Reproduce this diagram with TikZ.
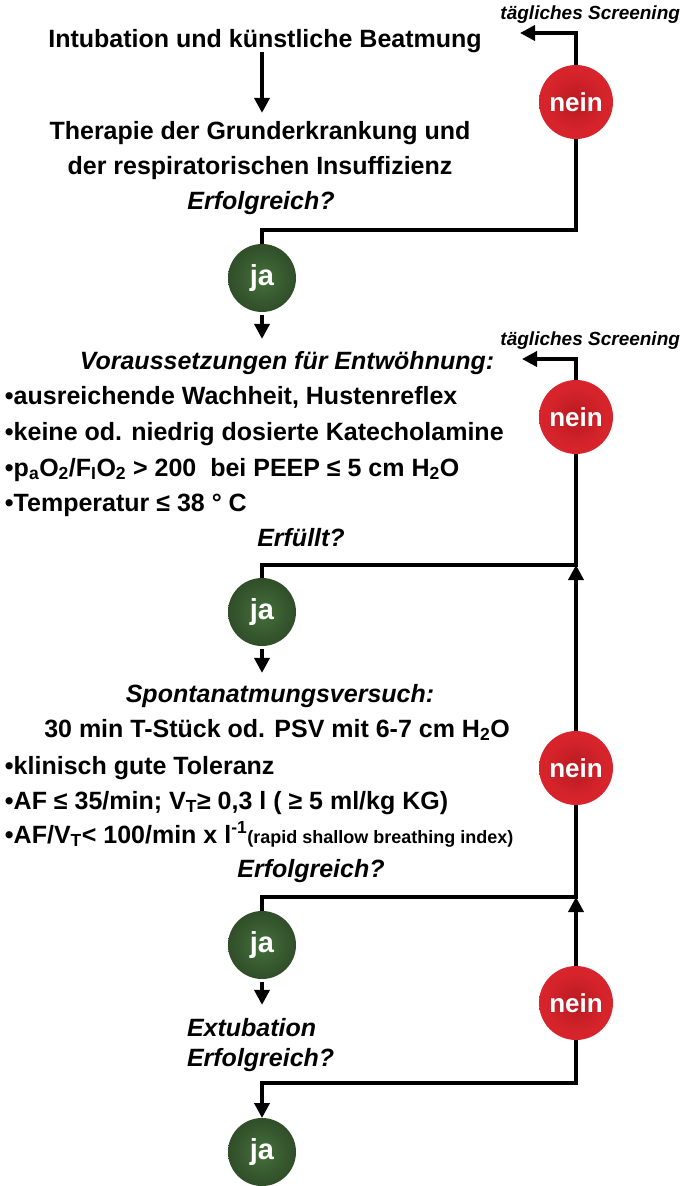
\documentclass[tikz,border=0pt]{standalone}
\usepackage{fontspec}
\setmainfont{Liberation Sans}
\usetikzlibrary{arrows.meta}

% ball shadings for the yes/no markers
\pgfdeclareradialshading{jashade}{\pgfpoint{0bp}{0bp}}{rgb(0bp)=(0.27,0.44,0.23); rgb(18bp)=(0.21,0.34,0.18); rgb(50bp)=(0.11,0.19,0.09)}
\pgfdeclareradialshading{neinshade}{\pgfpoint{0bp}{0bp}}{rgb(0bp)=(0.72,0.10,0.13); rgb(20bp)=(0.84,0.14,0.17); rgb(50bp)=(0.88,0.16,0.18)}

\tikzset{
  line/.style={line width=3.6pt},
  arr/.style={line, -{Triangle[length=15pt,width=15pt]}},
  txt/.style={font=\fontsize{25}{30}\selectfont\bfseries, inner sep=0pt, outer sep=0pt, anchor=base},
  lft/.style={txt, anchor=base west},
  itx/.style={txt, font=\fontsize{25}{30}\selectfont\bfseries\itshape},
  itl/.style={itx, anchor=base west},
  scr/.style={txt, font=\fontsize{19}{22}\selectfont\bfseries\itshape, anchor=base east},
  ja/.style={circle, minimum size=68pt, inner sep=0pt, outer sep=0pt, shade, shading=jashade,
    text=white, font=\fontsize{29}{30}\selectfont\bfseries},
  nein/.style={ja, minimum size=74pt, shading=neinshade, font=\fontsize{26}{30}\selectfont\bfseries}
}

\begin{document}
\begin{tikzpicture}[x=1pt,y=-1pt]
  \useasboundingbox (0,0) rectangle (685,1186);

  % step 1
  \node[txt] (intub) at (265,47) {Intubation und künstliche Beatmung};
  \node[txt] (ther1) at (260,139) {Therapie der Grunderkrankung und};
  \node[txt] (ther2) at (260,174) {der respiratorischen Insuffizienz};
  \node[itx] (erf1) at (261,209) {Erfolgreich?};
  \node[ja] (ja1) at (262,278) {ja};
  \node[nein] (nein1) at (576,102) {nein};
  \node[scr] (scr1lbl) at (680,19) {tägliches Screening};
  \coordinate (scr1) at (520,33);
  \coordinate (k1) at (576,230);

  % step 2
  \node[itx] (vor) at (287,369) {Voraussetzungen für Entwöhnung:};
  \node[lft] (b1) at (5,404) {•ausreichende Wachheit, Hustenreflex};
  \node[lft] (b2) at (5,440) {•keine od. niedrig dosierte Katecholamine};
  \node[lft] (b3) at (5,476) {•p\textsubscript{a}O\textsubscript{2}/F\textsubscript{I}O\textsubscript{2} > 200\ \ bei PEEP ≤ 5 cm H\textsubscript{2}O};
  \node[lft] (b4) at (5,511) {•Temperatur ≤ 38 ° C};
  \node[itx] (erf2) at (301,546) {Erfüllt?};
  \node[nein] (nein2) at (576,417) {nein};
  \node[scr] (scr2lbl) at (680,345) {tägliches Screening};
  \coordinate (scr2) at (522,359);
  \coordinate (k2) at (576,565);
  \node[ja] (ja2) at (262,612) {ja};

  % step 3
  \node[itx] (spont) at (280,702) {Spontanatmungsversuch:};
  \node[txt] (psv) at (277,737) {30 min T-Stück od. PSV mit 6-7 cm H\textsubscript{2}O};
  \node[lft] (c1) at (5,774) {•klinisch gute Toleranz};
  \node[lft] (c2) at (5,809) {•AF ≤ 35/min; V\textsubscript{T}≥ 0,3 l ( ≥ 5 ml/kg KG)};
  \node[lft] (c3) at (5,843) {•AF/V\textsubscript{T}< 100/min x l\textsuperscript{-1}{\fontsize{18}{20}\selectfont(rapid shallow breathing index)}};
  \node[itx] (erf3) at (311,877) {Erfolgreich?};
  \node[nein] (nein3) at (576,768) {nein};
  \coordinate (k3) at (576,897);
  \node[ja] (ja3) at (262,945) {ja};

  % step 4
  \node[itl] (extub) at (187,1036) {Extubation};
  \node[itl] (erf4) at (187,1066) {Erfolgreich?};
  \node[nein] (nein4) at (576,1003) {nein};
  \coordinate (k4) at (576,1083);
  \node[ja] (ja4) at (262,1152) {ja};

  % connectors
  \draw[arr, shorten >=8pt] (intub.south -| ja1) -- (ther1.north -| ja1);
  \draw[line] (ja1) |- (k1) -- (nein1);
  \draw[arr] (nein1) |- (scr1);
  \draw[arr, shorten <=3pt, shorten >=12pt] (ja1) -- (ja1 |- vor.north);
  \draw[line] (ja2) |- (k2) -- (nein2);
  \draw[arr] (nein2) |- (scr2);
  \draw[arr] (nein3) -- (k2);
  \draw[arr, shorten <=3pt, shorten >=11pt] (ja2) -- (ja2 |- spont.north);
  \draw[line] (ja3) |- (k3) -- (nein3);
  \draw[arr] (nein4) -- (k3);
  \draw[arr, shorten <=3pt, shorten >=13pt] (ja3) -- (ja3 |- extub.north);
  \draw[arr] (nein4) -- (k4) -| (ja4);
\end{tikzpicture}
\end{document}
